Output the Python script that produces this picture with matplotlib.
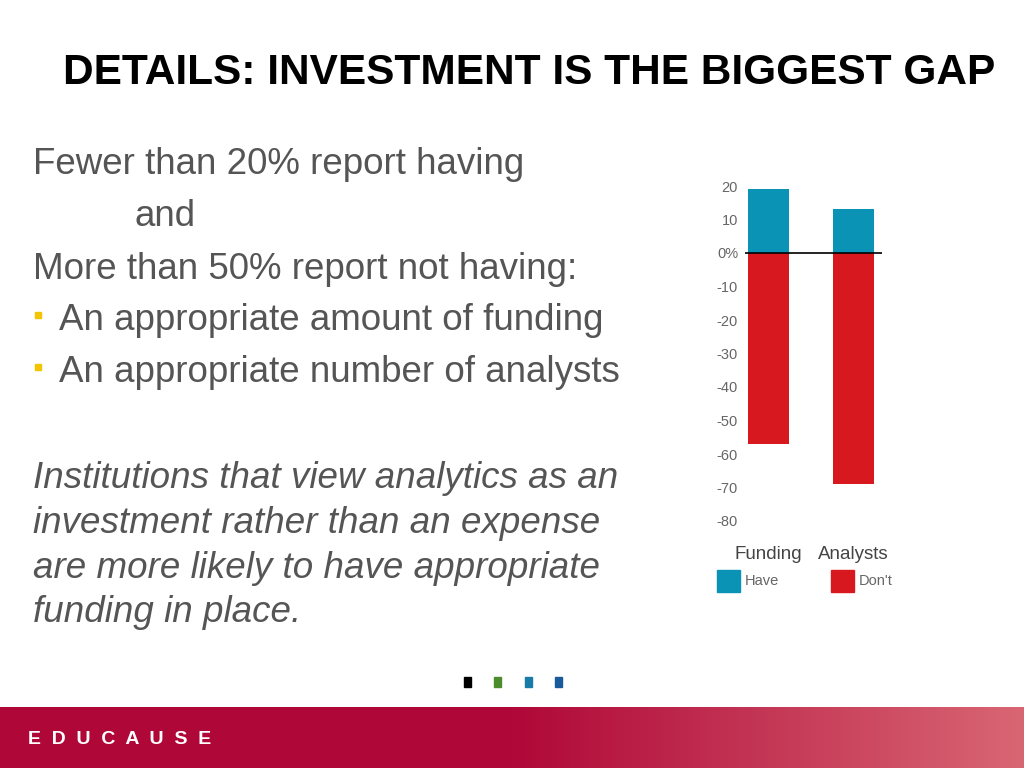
import numpy as np
import matplotlib
matplotlib.use('Agg')
import matplotlib.pyplot as plt
from matplotlib.patches import Rectangle

categories = ["Funding", "Analysts"]
have = [19, 13]
dont = [-57, -69]
yticks = [20, 10, 0, -10, -20, -30, -40, -50, -60, -70, -80]
ytick_labels = ["20", "10", "0%", "-10", "-20", "-30", "-40", "-50", "-60", "-70", "-80"]

BLUE = "#0a93b4"
RED = "#d7191f"
W, H = 1024, 768

plt.rcParams['font.family'] = ['Liberation Sans', 'DejaVu Sans']
fig = plt.figure(figsize=(10.24, 7.68), dpi=100)

def fx(px):
    return px / W

def fy(py):
    return 1 - py / H

# title
fig.text(fx(529), fy(73), "DETAILS: INVESTMENT IS THE BIGGEST GAP", ha="center", va="center",
         fontsize=30.5, fontweight="bold", color="black")

# body text
grey = "#555555"
body = [(33, 165, "Fewer than 20% report having"),
        (135, 217, "and"),
        (33, 269, "More than 50% report not having:")]
for x, y, s in body:
    fig.text(fx(x), fy(y), s, fontsize=26.5, color=grey, va="center")
for y, s in [(321, "An appropriate amount of funding"), (373, "An appropriate number of analysts")]:
    fig.patches.append(Rectangle((fx(35), fy(y - 3)), fx(6), 6 / H, transform=fig.transFigure,
                                 color="#f2c500", figure=fig))
    fig.text(fx(59), fy(y), s, fontsize=26.5, color=grey, va="center")
for i, s in enumerate(["Institutions that view analytics as an", "investment rather than an expense",
                       "are more likely to have appropriate", "funding in place."]):
    fig.text(fx(33), fy(479 + i * 44.5), s, fontsize=26.5, color=grey, va="center", style="italic")

# chart
ax = fig.add_axes([fx(745), fy(521), fx(137), (521 - 186) / H])
x = np.arange(len(categories))
ax.bar(x, have, width=0.48, color=BLUE)
ax.bar(x, dont, width=0.48, color=RED)
ax.axhline(0, color="black", lw=1.2)
ax.set_xlim(-0.27, 1.33)
ax.set_ylim(-80, 20)
ax.set_yticks(yticks)
ax.set_yticklabels(ytick_labels, fontsize=10.5, color="#666666")
ax.set_xticks(x)
ax.set_xticklabels(categories, fontsize=13.5, color="#444444")
ax.tick_params(length=0, axis="y", pad=5)
ax.tick_params(length=0, axis="x", pad=18)
for sp in ax.spines.values():
    sp.set_visible(False)

# legend
for px, col, lab in [(717, BLUE, "Have"), (831, RED, "Don't")]:
    fig.patches.append(Rectangle((fx(px), fy(592)), fx(23), 22 / H, transform=fig.transFigure,
                                 color=col, figure=fig))
    fig.text(fx(px + 28), fy(581), lab, fontsize=10.5, color="#666666", va="center")

# small squares
for px, col in [(467, "black"), (497, "#4c8c2b"), (528, "#1a7aa8"), (558, "#1a5a9a")]:
    fig.patches.append(Rectangle((fx(px - 3), fy(687)), fx(7), 10 / H, transform=fig.transFigure,
                                 color=col, figure=fig))

# banner with gradient
bax = fig.add_axes([0, 0, 1, fy(707)])
grad = np.linspace(0, 1, 256)
c0 = np.array([0.69, 0.03, 0.22])
c1 = np.array([0.85, 0.40, 0.45])
t = np.clip((grad - 0.5) / 0.5, 0, 1)[None, :, None]
img = c0 + (c1 - c0) * t
bax.imshow(img, aspect="auto", extent=[0, 1, 0, 1])
bax.set_axis_off()
fig.text(fx(28), fy(739), "E  D  U  C  A  U  S  E", fontsize=14, fontweight="bold", color="white", va="center")

fig.savefig("out.png", dpi=100)
